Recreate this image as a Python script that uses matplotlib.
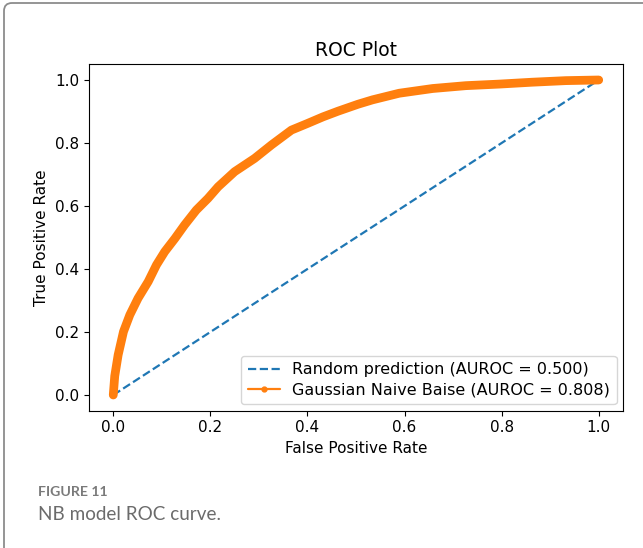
import matplotlib
matplotlib.use('Agg')
import matplotlib.pyplot as plt
from matplotlib.patches import FancyBboxPatch
from matplotlib.transforms import IdentityTransform

# ROC points
fpr = [0.0, 0.003, 0.010, 0.021, 0.034, 0.051, 0.072, 0.089, 0.106, 0.127,
       0.147, 0.171, 0.195, 0.216, 0.250, 0.291, 0.326, 0.367, 0.400, 0.432,
       0.463, 0.504, 0.534, 0.589, 0.658, 0.726, 0.795, 0.863, 0.932, 1.0]
tpr = [0.0, 0.060, 0.127, 0.201, 0.254, 0.307, 0.360, 0.413, 0.455, 0.497,
       0.540, 0.587, 0.624, 0.661, 0.709, 0.751, 0.794, 0.841, 0.862, 0.883,
       0.901, 0.923, 0.937, 0.958, 0.973, 0.982, 0.987, 0.993, 0.998, 1.0]
random_x = [0.0, 1.0]
random_y = [0.0, 1.0]

label_random = 'Random prediction (AUROC = 0.500)'
label_nb = 'Gaussian Naive Baise (AUROC = 0.808)'

fig = plt.figure(figsize=(6.43, 5.48), dpi=100)
ax = fig.add_axes([89 / 643, 137.25 / 548, 534 / 643, 346.5 / 548])

ax.plot(random_x, random_y, linestyle='--', color='#1f77b4', lw=1.6, label=label_random)
ax.plot(fpr, tpr, color='#ff7f0e', lw=6.3,
        solid_capstyle='round', solid_joinstyle='round', label=label_nb)

ax.set_title('ROC Plot', fontsize=13.5)
ax.set_xlabel('False Positive Rate', fontsize=11)
ax.set_ylabel('True Positive Rate', fontsize=11)
ax.tick_params(labelsize=11)
ax.set_xticks([0.0, 0.2, 0.4, 0.6, 0.8, 1.0])
ax.set_yticks([0.0, 0.2, 0.4, 0.6, 0.8, 1.0])

leg = ax.legend(loc='lower right', fontsize=11.5, borderaxespad=0.4, labelspacing=0.35)
leg.legend_handles[1].set_linewidth(1.6)
leg.legend_handles[1].set_marker('.')
leg.legend_handles[1].set_markersize(7)

# page frame (top and left edges with rounded corner)
frame = FancyBboxPatch((4, -30), 720, 575, boxstyle='round,pad=0,rounding_size=8',
                       transform=IdentityTransform(), fill=False,
                       edgecolor='#8c8c8c', lw=1.3)
fig.patches.append(frame)

fig.text(38 / 643, 1 - 492 / 548, 'FIGURE 11', fontsize=10.2, color='#7a7a7a',
         family='Lato', fontweight='bold', va='center', ha='left')
fig.text(38 / 643, 1 - 515 / 548, 'NB model ROC curve.', fontsize=13.6, color='#6b6b6b',
         family='Lato', va='center', ha='left')

fig.savefig('out.png', dpi=100)
